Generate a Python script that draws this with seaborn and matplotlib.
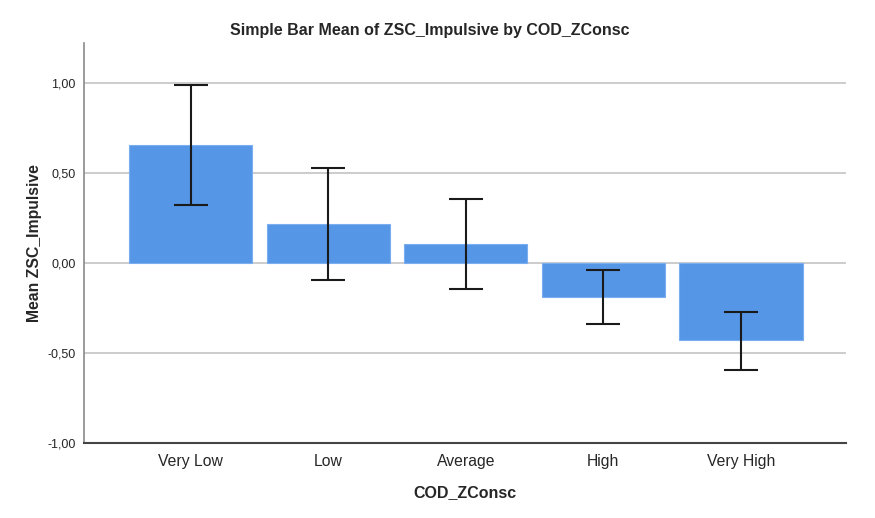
import matplotlib
matplotlib.use("Agg")
import matplotlib.pyplot as plt
import seaborn as sns
import numpy as np

categories = ["Very Low", "Low", "Average", "High", "Very High"]
means = [0.656, 0.217, 0.106, -0.189, -0.428]
ci_low = [0.322, -0.094, -0.144, -0.339, -0.594]
ci_high = [0.989, 0.528, 0.356, -0.039, -0.272]
yticks = [-1.0, -0.5, 0.0, 0.5, 1.0]
ytick_labels = ["-1,00", "-0,50", "0,00", "0,50", "1,00"]

sns.set_style("white")
plt.rcParams["font.family"] = ["Liberation Sans", "DejaVu Sans"]

fig = plt.figure(figsize=(8.75, 5.18), dpi=100)
ax = fig.add_axes([84/875, 1-443/518, (846-84)/875, (443-43)/518])

sns.barplot(x=categories, y=means, errorbar=None, color="#5596e6", width=0.894,
            edgecolor="#7aaef0", linewidth=0.8, saturation=1, ax=ax, zorder=2)

x = np.arange(len(categories))
m = np.array(means)
yerr = [m - np.array(ci_low), np.array(ci_high) - m]
ax.errorbar(x, m, yerr=yerr, fmt="none", ecolor="#1a1a1a", elinewidth=1.5,
            capsize=12.2, capthick=1.5, zorder=3)

ax.set_xlim(-0.774, 4.763)
ax.set_ylim(-1.0, 1.222)
ax.set_yticks(yticks)
ax.set_yticklabels(ytick_labels, fontsize=9)
ax.tick_params(axis="both", length=0)
ax.tick_params(axis="x", labelsize=11.3, pad=16.5)
ax.tick_params(axis="y", pad=6)
for lbl in ax.get_xticklabels():
    lbl.set_verticalalignment("baseline")
ax.yaxis.grid(True, color="#c4c4c4", linewidth=1.2, zorder=0)
ax.set_axisbelow(True)
for s in ["top", "right"]:
    ax.spines[s].set_visible(False)
ax.spines["left"].set_color("#8a8a8a")
ax.spines["left"].set_linewidth(1.2)
ax.spines["bottom"].set_color("#444444")
ax.spines["bottom"].set_linewidth(1.5)

ax.set_xlabel("COD_ZConsc", fontsize=11.5, fontweight="bold", labelpad=11.5)
ax.set_ylabel("Mean ZSC_Impulsive", fontsize=11.3, fontweight="bold", labelpad=4)
fig.text(430/875, 1-30/518, "Simple Bar Mean of ZSC_Impulsive by COD_ZConsc",
         ha="center", va="center", fontsize=11.5, fontweight="bold")

fig.savefig("out.png", dpi=100)
